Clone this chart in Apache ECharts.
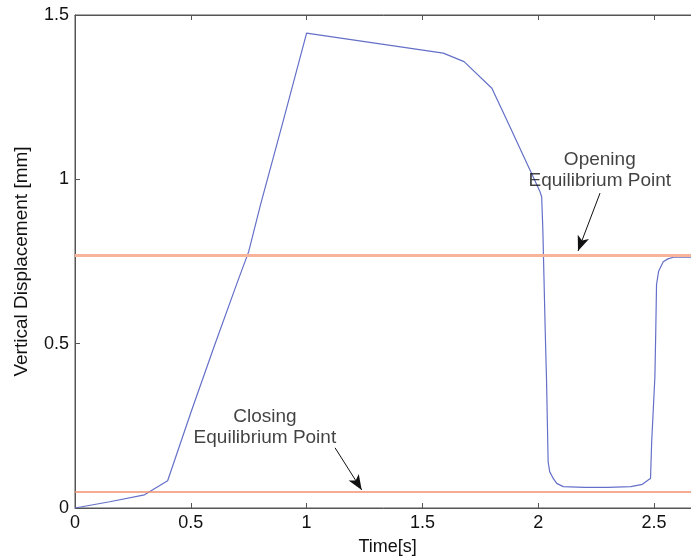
<!DOCTYPE html>
<html>
<head>
<meta charset="utf-8">
<script src="https://cdn.jsdelivr.net/npm/echarts@6/dist/echarts.min.js"></script>
<style>
  html, body { margin: 0; padding: 0; background: #ffffff; overflow: hidden; }
  #chart { width: 691px; height: 560px; }
</style>
</head>
<body>
<div id="chart"></div>
<script>
// Time axis samples [s]
const timeS = [
  0, 0.15, 0.30, 0.40, 0.50, 0.60, 0.70, 0.75, 0.80, 0.90, 1.00,
  1.59, 1.68, 1.80, 1.878, 1.965, 2.008, 2.015, 2.02, 2.025, 2.03, 2.036,
  2.043, 2.05, 2.065, 2.08, 2.108, 2.20, 2.30, 2.40, 2.45, 2.475, 2.485,
  2.49, 2.497, 2.504, 2.508, 2.511, 2.52, 2.54, 2.56, 2.584, 2.70
];
// Vertical displacement [mm]
const displacement = [
  0, 0.019, 0.04, 0.083, 0.29, 0.49, 0.685, 0.78, 0.92, 1.18, 1.445,
  1.384, 1.358, 1.277, 1.16, 1.028, 0.962, 0.947, 0.85, 0.70, 0.55, 0.39,
  0.14, 0.11, 0.09, 0.075, 0.065, 0.063, 0.063, 0.065, 0.072, 0.085, 0.09,
  0.20, 0.30, 0.40, 0.55, 0.68, 0.72, 0.749, 0.758, 0.763, 0.763
];
// Equilibrium levels [mm]
const openingLevel = 0.773;
const closingLevel = 0.05;

// Annotation texts and arrows (data coordinates)
const annotationTexts = ['Opening\nEquilibrium Point', 'Closing\nEquilibrium Point'];
const annotationAt = [[2.266, 1.028], [0.82, 0.246]];
const arrowFrom = [[2.267, 0.958], [1.123, 0.183]];
const arrowTo = [[2.172, 0.782], [1.238, 0.055]];

// Axis ticks
const xMin = 0, xMax = 2.7, xStep = 0.5;
const yMin = 0, yMax = 1.5, yStep = 0.5;

const font = 'Liberation Sans, Arial, Helvetica, sans-serif';
const axisGray = '#555555';
const textColor = '#111111';

const chart = echarts.init(document.getElementById('chart'), null, { renderer: 'canvas' });

const lineData = timeS.map((t, i) => [t, displacement[i]]);
const annotData = annotationAt.map((p, i) => [p[0], p[1], annotationTexts[i]]);
const arrowData = arrowFrom.map((p, i) => [{ coord: p }, { coord: arrowTo[i] }]);

chart.setOption({
  animation: false,
  backgroundColor: '#ffffff',
  grid: {
    left: 75, top: 15, height: 493, width: 625.3,
    outerBoundsMode: 'none',
    containLabel: false,
    show: true, borderColor: axisGray, borderWidth: 1, backgroundColor: 'transparent'
  },
  xAxis: [{
    type: 'value', min: xMin, max: xMax, interval: xStep,
    position: 'bottom',
    name: 'Time[s]', nameLocation: 'middle', nameGap: 30,
    nameTextStyle: { fontFamily: font, fontSize: 18, color: textColor },
    axisLine: { show: true, lineStyle: { color: axisGray, width: 1 } },
    axisTick: { show: true, inside: true, length: 5, lineStyle: { color: axisGray } },
    axisLabel: {
      fontFamily: font, fontSize: 18, color: textColor, margin: 6,
      showMaxLabel: false,
      formatter: v => String(v)
    },
    splitLine: { show: false }
  }, {
    type: 'value', min: xMin, max: xMax, interval: xStep,
    position: 'top',
    axisLine: { show: true, lineStyle: { color: axisGray, width: 1 } },
    axisTick: { show: true, inside: true, length: 5, lineStyle: { color: axisGray } },
    axisLabel: { show: false },
    splitLine: { show: false }
  }],
  yAxis: {
    type: 'value', min: yMin, max: yMax, interval: yStep,
    name: 'Vertical Displacement [mm]', nameLocation: 'middle', nameGap: 44,
    nameRotate: 90,
    nameTextStyle: { fontFamily: font, fontSize: 19, color: textColor },
    axisLine: { show: true, lineStyle: { color: axisGray, width: 1 } },
    axisTick: { show: true, inside: true, length: 5, lineStyle: { color: axisGray } },
    axisLabel: {
      fontFamily: font, fontSize: 18, color: textColor, margin: 6,
      formatter: v => String(v)
    },
    splitLine: { show: false }
  },
  series: [
    {
      name: 'levels',
      type: 'line',
      data: [],
      silent: true,
      z: 2,
      markLine: {
        silent: true,
        symbol: ['none', 'none'],
        label: { show: false },
        animation: false,
        data: [
          { yAxis: openingLevel, lineStyle: { color: '#f7b49b', width: 3, type: 'solid' } },
          { yAxis: closingLevel, lineStyle: { color: '#f2906f', width: 1.5, type: 'solid' } }
        ]
      }
    },
    {
      name: 'displacement',
      type: 'line',
      data: lineData,
      showSymbol: false,
      smooth: false,
      z: 3,
      lineStyle: { color: '#6470c8', width: 1.2 }
    },
    {
      name: 'arrows',
      type: 'line',
      data: [],
      silent: true,
      z: 4,
      markLine: {
        silent: true,
        symbol: ['none', 'arrow'],
        symbolSize: [9, 15],
        label: { show: false },
        animation: false,
        lineStyle: { color: '#111', width: 1, type: 'solid' },
        itemStyle: { color: '#111' },
        data: arrowData
      }
    },
    {
      name: 'annotations',
      type: 'scatter',
      data: annotData,
      symbolSize: 0,
      silent: true,
      z: 5,
      label: {
        show: true,
        position: 'inside',
        formatter: p => p.value[2],
        fontFamily: font,
        fontSize: 19,
        lineHeight: 21,
        color: textColor,
        align: 'center',
        verticalAlign: 'middle'
      }
    }
  ]
});
</script>
</body>
</html>
